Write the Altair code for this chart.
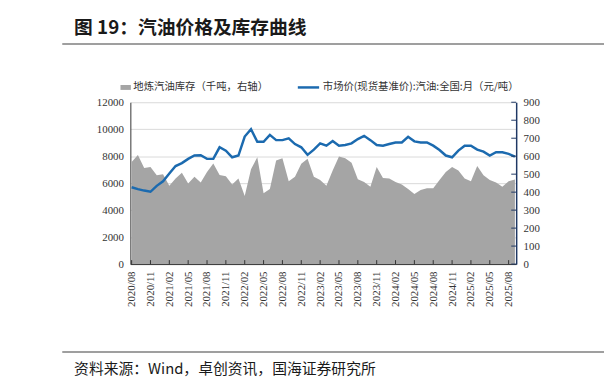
import json
import altair as alt
import pandas as pd

# ---------------- data ----------------
all_months = [f"{y}/{m:02d}" for y in range(2020, 2026) for m in range(1, 13)]
months = all_months[all_months.index("2020/08"): all_months.index("2025/09") + 1]

# 市场价(现货基准价):汽油:全国:月（元/吨） - left axis
price = [5700, 5560, 5450, 5360, 5800, 6140, 6710, 7270, 7490, 7800,
         8050, 8070, 7800, 7800, 8660, 8410, 7920, 8050, 9460, 10000,
         9070, 9070, 9580, 9190, 9190, 9320, 8900, 8660, 8100, 8490,
         8950, 8780, 9120, 8780, 8830, 8950, 9270, 9510, 9190, 8830,
         8780, 8900, 9020, 9020, 9440, 9100, 9020, 9020, 8780, 8460,
         8050, 7920, 8410, 8780, 8780, 8490, 8340, 8050, 8290, 8290,
         8170, 7970]

# 地炼汽油库存（千吨，右轴）
stock = [567, 606, 534, 540, 494, 499, 435, 476, 508, 448,
         485, 454, 512, 560, 496, 488, 443, 476, 379, 527,
         594, 394, 417, 576, 589, 461, 485, 558, 586, 485,
         467, 435, 521, 598, 589, 564, 472, 457, 430, 540,
         479, 476, 457, 443, 417, 390, 412, 421, 421, 467,
         512, 540, 521, 476, 461, 545, 494, 467, 454, 430,
         461, 470]

left_ticks = [0, 2000, 4000, 6000, 8000, 10000, 12000]
right_ticks = [0, 100, 200, 300, 400, 500, 600, 700, 800, 900]
x_tick_idx = list(range(0, len(months), 3))

title_text = "图 19：汽油价格及库存曲线"
legend_area = "地炼汽油库存（千吨，右轴）"
legend_line = "市场价(现货基准价):汽油:全国:月（元/吨）"
source_text = "资料来源：Wind，卓创资讯，国海证券研究所"

df = pd.DataFrame({"i": list(range(len(months))), "month": months,
                   "price": price, "stock": stock})

W, H = 391, 164
CJK = "Noto Sans CJK SC"
SERIF = "Liberation Serif"

xs = alt.Scale(domain=[-0.2, len(months) - 1 + 0.2], nice=False, zero=False)
label_expr = json.dumps(months) + "[datum.value]"

x_axis = alt.Axis(values=x_tick_idx, labelExpr=label_expr, labelAngle=270,
                  ticks=False, domainColor="#333333", domainWidth=1,
                  labelPadding=7, title=None, grid=False,
                  labelFont=SERIF, labelFontSize=11, labelColor="#333333",
                  labelOverlap=False, labelAlign="right",
                  labelBaseline="middle")

area = alt.Chart(df).mark_area(color="#A5A5A5", opacity=1).encode(
    x=alt.X("i:Q", scale=xs, axis=x_axis),
    y=alt.Y("stock:Q", scale=alt.Scale(domain=[0, 900], nice=False),
            axis=alt.Axis(orient="right", values=right_ticks, grid=False,
                          ticks=False, domainColor="#1F3864", domainWidth=1.5,
                          labelPadding=7, title=None, labelFont=SERIF,
                          labelFontSize=11, labelColor="#333333",
                          format="d")),
)

line = alt.Chart(df).mark_line(color="#1B6AAF", strokeWidth=2.5).encode(
    x=alt.X("i:Q", scale=xs, axis=x_axis),
    y=alt.Y("price:Q", scale=alt.Scale(domain=[0, 12000], nice=False),
            axis=alt.Axis(orient="left", values=left_ticks, grid=True,
                          gridColor="#D9D9D9", ticks=False,
                          domainColor="#333333", labelPadding=7, title=None,
                          labelFont=SERIF, labelFontSize=11,
                          labelColor="#333333", format="d")),
)

xt = alt.Chart(pd.DataFrame({"t": x_tick_idx})).mark_rule(
    color="#333333", strokeWidth=1).encode(
    x=alt.X("t:Q", scale=xs, axis=x_axis),
    y=alt.value(H - 4), y2=alt.value(H),
)

rt = alt.Chart(pd.DataFrame({"v": right_ticks})).mark_rule(
    color="#1F3864", strokeWidth=1).encode(
    y=alt.Y("v:Q", scale=alt.Scale(domain=[0, 900], nice=False), axis=None),
    x=alt.value(W - 5), x2=alt.value(W),
)

one = pd.DataFrame({"a": [0]})


def txt(t, x, y, size, weight="normal", color="#1a1a1a"):
    return alt.Chart(one).mark_text(
        text=t, align="left", baseline="middle", font=CJK, fontSize=size,
        fontWeight=weight, color=color).encode(x=alt.value(x), y=alt.value(y))


def hrule(x1, x2, y, color, width):
    return alt.Chart(one).mark_rule(color=color, strokeWidth=width).encode(
        x=alt.value(x1), x2=alt.value(x2), y=alt.value(y))


title = txt(title_text, -57, -75.5, 19, "bold")
top_rule = hrule(-69, 480, -59, "#7F7F7F", 1.5)
bot_rule = hrule(-69, 480, 253, "#7F7F7F", 1.5)
source = txt(source_text, -57, 270, 15)

leg_rect = alt.Chart(one).mark_rect(color="#A5A5A5").encode(
    x=alt.value(-10), x2=alt.value(0.5), y=alt.value(-17.5), y2=alt.value(-12.5))
leg_t1 = txt(legend_area, 3, -15, 10.5, color="#333333")
leg_line = alt.Chart(one).mark_rule(color="#1B6AAF", strokeWidth=2.5).encode(
    x=alt.value(169.7), x2=alt.value(191.3), y=alt.value(-15))
leg_t2 = txt(legend_line, 195, -15, 10.5, color="#333333")

chart = alt.layer(
    area, line, xt, rt, title, top_rule, bot_rule, source,
    leg_rect, leg_t1, leg_line, leg_t2,
).resolve_scale(y="independent").properties(
    width=W, height=H,
    autosize=alt.AutoSizeParams(type="none"),
    padding={"left": 124, "top": 93, "right": 89, "bottom": 117},
    background="white",
).configure_view(stroke=None)

chart.save("out.html", embed_options={"renderer": "svg", "actions": False})
